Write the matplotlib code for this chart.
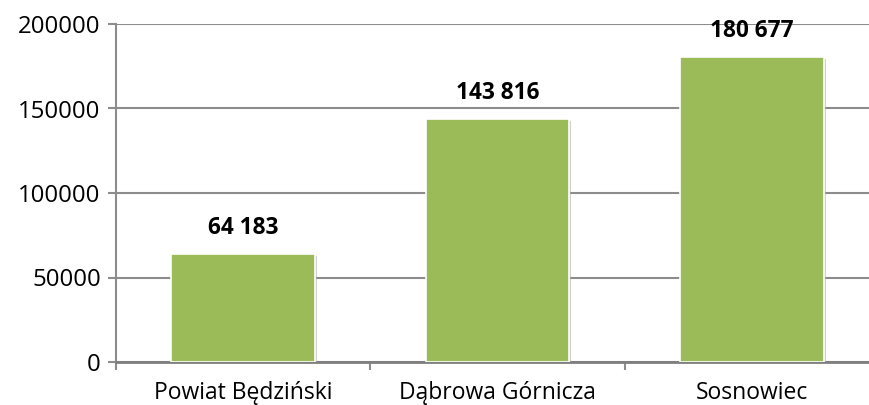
import matplotlib
matplotlib.use('Agg')
import numpy as np
import matplotlib.pyplot as plt
import matplotlib.patheffects as pe

plt.rcParams['font.family'] = ['Open Sans', 'DejaVu Sans']

# dane
categories = ['Powiat Będziński', 'Dąbrowa Górnicza', 'Sosnowiec']
values = [64183, 143816, 180677]
value_labels = ['64 183', '143 816', '180 677']
yticks = [0, 50000, 100000, 150000, 200000]

grid_col = '#8c8c8c'
bar_col = '#9bbb59'

fig = plt.figure(figsize=(8.69, 4.05), dpi=100)
ax = fig.add_axes([116 / 869, 43 / 405, 763 / 869, 338 / 405])

x = np.arange(len(categories))
bars = ax.bar(x, values, width=0.565, color=bar_col, edgecolor='white', linewidth=1.2, zorder=3)
for b in bars:
    b.set_path_effects([pe.SimplePatchShadow(offset=(1.5, -1.5), shadow_rgbFace='#b0b0b0', alpha=0.6), pe.Normal()])

for xi, v, lab in zip(x, values, value_labels):
    ax.annotate(lab, (xi, v), xytext=(0, 18.5), textcoords='offset points', ha='center', va='center',
                fontsize=16.3, fontweight='bold', color='black')

ax.set_xlim(-0.5, 2.5)
ax.set_ylim(0, 200000)
ax.set_yticks(yticks)
ax.set_yticklabels([str(t) for t in yticks])
ax.yaxis.grid(True, color=grid_col, lw=1.5, zorder=0)
ax.tick_params(axis='y', length=6, width=1.5, color=grid_col, labelsize=17.3, pad=5)

ax.set_xticks([-0.5, 0.5, 1.5, 2.5])
ax.set_xticklabels([])
ax.set_xticks(x, minor=True)
ax.set_xticklabels(categories, minor=True)
ax.tick_params(axis='x', which='major', length=5.5, width=1.5, color=grid_col)
ax.tick_params(axis='x', which='minor', length=0, labelsize=16.5, pad=13.5)

for s in ['top', 'right']:
    ax.spines[s].set_visible(False)
ax.spines['left'].set_color(grid_col)
ax.spines['left'].set_linewidth(1.5)
ax.spines['bottom'].set_color('#7f7f7f')
ax.spines['bottom'].set_linewidth(2)
ax.set_axisbelow(True)

fig.savefig('out.png', dpi=100)
